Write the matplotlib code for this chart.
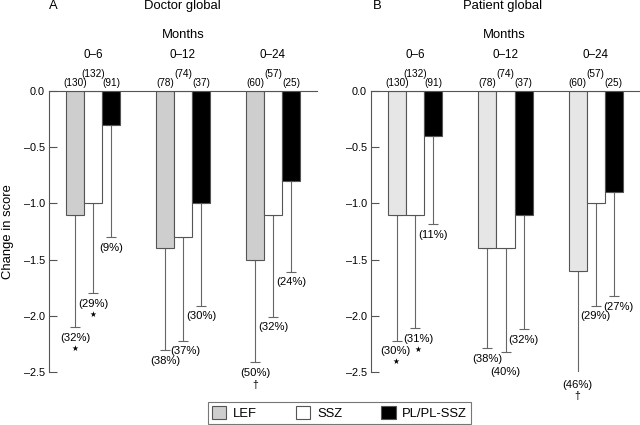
import matplotlib
matplotlib.use("Agg")
import matplotlib.pyplot as plt
from matplotlib.patches import Patch
import numpy as np

plt.rcParams['font.family'] = ['Liberation Sans', 'DejaVu Sans']

groups = ["0\u20136", "0\u201312", "0\u201324"]
series = ["LEF", "SSZ", "PL/PL-SSZ"]

# Panel A: Doctor global
a_means = {"LEF": [-1.1, -1.4, -1.5], "SSZ": [-1.0, -1.3, -1.1], "PL/PL-SSZ": [-0.3, -1.0, -0.8]}
a_lows = {"LEF": [-2.1, -2.3, -2.41], "SSZ": [-1.8, -2.22, -2.01], "PL/PL-SSZ": [-1.3, -1.91, -1.61]}
a_n = {"LEF": ["(130)", "(78)", "(60)"], "SSZ": ["(132)", "(74)", "(57)"], "PL/PL-SSZ": ["(91)", "(37)", "(25)"]}
a_pct = {"LEF": ["(32%)", "(38%)", "(50%)"], "SSZ": ["(29%)", "(37%)", "(32%)"], "PL/PL-SSZ": ["(9%)", "(30%)", "(24%)"]}
a_sig = {"LEF": ["\u2605", "", "\u2020"], "SSZ": ["\u2605", "", ""], "PL/PL-SSZ": ["", "", ""]}

# Panel B: Patient global
b_means = {"LEF": [-1.1, -1.4, -1.6], "SSZ": [-1.1, -1.4, -1.0], "PL/PL-SSZ": [-0.4, -1.1, -0.9]}
b_lows = {"LEF": [-2.22, -2.29, -2.52], "SSZ": [-2.11, -2.32, -1.91], "PL/PL-SSZ": [-1.18, -2.12, -1.82]}
b_n = a_n
b_pct = {"LEF": ["(30%)", "(38%)", "(46%)"], "SSZ": ["(31%)", "(40%)", "(29%)"], "PL/PL-SSZ": ["(11%)", "(32%)", "(27%)"]}
b_sig = {"LEF": ["\u2605", "", "\u2020"], "SSZ": ["\u2605", "", ""], "PL/PL-SSZ": ["", "", ""]}

yticks = [0.0, -0.5, -1.0, -1.5, -2.0, -2.5]

# label offsets in points (dx, dy) for percentage labels
a_off = {"LEF": [(0, -8), (0, -8.5), (0, -8)], "SSZ": [(0, -7.5), (2, -7.5), (0, -7.5)], "PL/PL-SSZ": [(0, -8), (0, -7.5), (0, -7.5)]}
b_off = {"LEF": [(-1, -7.5), (0, -7.5), (0, -7.5)], "SSZ": [(2, -7.5), (0, -14.5), (0, -7.5)], "PL/PL-SSZ": [(0, -8), (0, -7.5), (3, -8)]}

fig = plt.figure(figsize=(6.4, 4.25), dpi=100)
W, H = 640, 425

def make_panel(rect, means, lows, ns, pcts, sigs, offs, lef_color):
    ax = fig.add_axes(rect)
    x = np.arange(len(groups))
    width = 0.2
    colors = {"LEF": lef_color, "SSZ": "white", "PL/PL-SSZ": "black"}
    for i, s in enumerate(series):
        xs = x + (i - 1) * width
        m = np.array(means[s])
        lo = np.array(lows[s])
        ax.bar(xs, m, width=width, color=colors[s], edgecolor="#555555", linewidth=0.8, zorder=2)
        ax.errorbar(xs, m, yerr=[m - lo, np.zeros_like(m)], fmt='none', ecolor="#666666",
                    elinewidth=0.8, capsize=3.5, capthick=0.8, zorder=1)
        for j in range(len(groups)):
            dx, dy = offs[s][j]
            ax.annotate(pcts[s][j], (xs[j], lo[j]), xytext=(dx, dy), textcoords="offset points",
                        ha="center", va="center", fontsize=8.1, annotation_clip=False)
            if sigs[s][j]:
                fs = 5.5 if sigs[s][j] == "\u2605" else 7.5
                ax.annotate(sigs[s][j], (xs[j], lo[j]), xytext=(dx, dy - 8.5), textcoords="offset points",
                            ha="center", va="center", fontsize=fs, annotation_clip=False)
            ny = 12.5 if s == "SSZ" else 5.5
            ax.annotate(ns[s][j], (xs[j], 0), xytext=(0, ny), textcoords="offset points",
                        ha="center", va="center", fontsize=7.2, annotation_clip=False)
    for j, g in enumerate(groups):
        ax.annotate(g, (x[j], 0), xytext=(0, 26), textcoords="offset points",
                    ha="center", va="center", fontsize=8.4, annotation_clip=False)
    ax.set_xlim(-0.49, 2.49)
    ax.set_ylim(-2.5, 0)
    ax.set_yticks(yticks)
    ax.set_yticklabels([f"{t:.1f}".replace("-", "\u2013") for t in yticks], fontsize=7.8)
    ax.tick_params(axis='y', direction='in', length=6, width=0.8, color="#555555", pad=3)
    ax.set_xticks([])
    for sp in ["right", "bottom"]:
        ax.spines[sp].set_visible(False)
    for sp in ["left", "top"]:
        ax.spines[sp].set_color("#555555")
        ax.spines[sp].set_linewidth(0.8)
    return ax

axA = make_panel([49 / W, 1 - 372 / H, (317 - 49) / W, (372 - 91) / H], a_means, a_lows, a_n, a_pct, a_sig, a_off,
                 "#cecece")
axB = make_panel([371 / W, 1 - 372 / H, (640 - 371) / W, (372 - 91) / H], b_means, b_lows, b_n, b_pct, b_sig, b_off,
                 "#e6e6e6")

fig.text(53 / W, 1 - 6 / H, "A", ha="center", va="center", fontsize=9.4)
fig.text(182 / W, 1 - 6 / H, "Doctor global", ha="center", va="center", fontsize=9.4)
fig.text(183 / W, 1 - 35 / H, "Months", ha="center", va="center", fontsize=9.4)
fig.text(377 / W, 1 - 6 / H, "B", ha="center", va="center", fontsize=9.4)
fig.text(503 / W, 1 - 6 / H, "Patient global", ha="center", va="center", fontsize=9.4)
fig.text(504 / W, 1 - 35 / H, "Months", ha="center", va="center", fontsize=9.4)
fig.text(8 / W, 1 - 232 / H, "Change in score", ha="center", va="center", rotation=90, fontsize=9.4)

handles = [Patch(facecolor="#cecece", edgecolor="#555555", linewidth=0.8),
           Patch(facecolor="white", edgecolor="#555555", linewidth=0.8),
           Patch(facecolor="black", edgecolor="#555555", linewidth=0.8)]
leg = fig.legend(handles, series, loc="center", bbox_to_anchor=(339.5 / W, 1 - 413 / H), ncol=3,
                 fontsize=9.4, frameon=True, fancybox=False, edgecolor="#555555", handlelength=1.1,
                 handleheight=1.1, columnspacing=3.0, handletextpad=0.5, borderpad=0.3, borderaxespad=0)
leg.get_frame().set_linewidth(0.8)

fig.savefig("out.png", dpi=100)
